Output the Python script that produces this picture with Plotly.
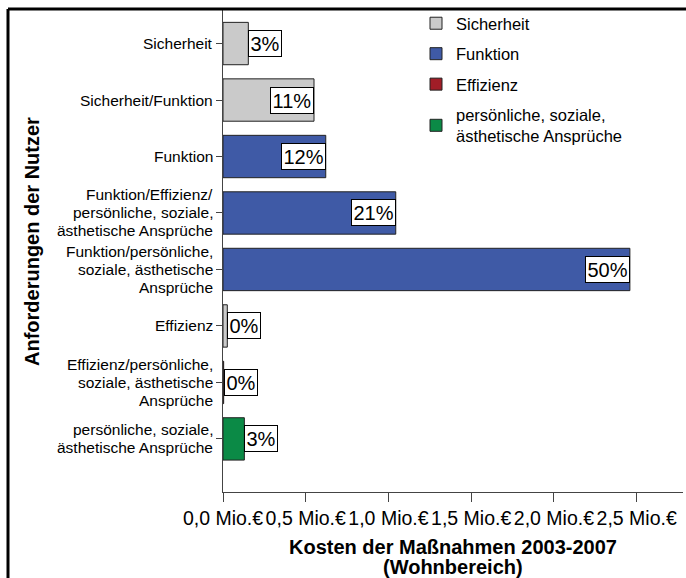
import plotly.graph_objects as go

categories = [
    "Sicherheit",
    "Sicherheit/Funktion",
    "Funktion",
    "Funktion/Effizienz/<br>persönliche, soziale,<br>ästhetische Ansprüche",
    "Funktion/persönliche,<br>soziale, ästhetische<br>Ansprüche",
    "Effizienz",
    "Effizienz/persönliche,<br>soziale, ästhetische<br>Ansprüche",
    "persönliche, soziale,<br>ästhetische Ansprüche",
]
costs = [0.153, 0.55, 0.621, 1.044, 2.459, 0.026, 0.004, 0.129]  # Mio. €
pct_labels = ["3%", "11%", "12%", "21%", "50%", "0%", "0%", "3%"]
group = ["Sicherheit", "Sicherheit", "Funktion", "Funktion", "Funktion",
         "Sicherheit", "Effizienz", "persönliche"]

series_names = ["Sicherheit", "Funktion", "Effizienz", "persönliche"]
legend_labels = ["Sicherheit", "Funktion", "Effizienz",
                 "persönliche, soziale,<br>ästhetische Ansprüche"]
colors = ["#cacaca", "#3f5aa6", "#a11d27", "#0b8a46"]

xtick_vals = [0, 0.5, 1.0, 1.5, 2.0, 2.5]
xtick_text = ["0,0 Mio.€", "0,5 Mio.€", "1,0 Mio.€", "1,5 Mio.€", "2,0 Mio.€", "2,5 Mio.€"]
x_title_lines = ["Kosten der Maßnahmen 2003-2007", "(Wohnbereich)"]
y_title = "Anforderungen der Nutzer"

FONT = "Liberation Sans, Arial, sans-serif"
L, R, T, B = 223, 3, 10, 86
W, H = 686, 578
PW, PH = W - L - R, H - T - B


def px_x(p):
    return (p - L) / PW


def px_y(p):
    return (H - B - p) / PH


fig = go.Figure()
for name, lab, col in zip(series_names, legend_labels, colors):
    idx = [i for i, g in enumerate(group) if g == name]
    fig.add_trace(go.Bar(
        x=[costs[i] for i in idx],
        y=idx,
        orientation="h",
        name=lab,
        legendgroup=name,
        width=0.75,
        marker=dict(color=col, line=dict(color="#222222", width=1)),
        hoverinfo="skip",
    ))

# category labels (tight line spacing as in the reference)
LINE = 18
for i, cat in enumerate(categories):
    lines = cat.split("<br>")
    n = len(lines)
    for k, ln in enumerate(lines):
        fig.add_annotation(
            x=0, y=i, xref="paper", yref="y", text=ln, showarrow=False,
            xanchor="right", yanchor="middle", xshift=-9, borderpad=0,
            yshift=-(k - (n - 1) / 2) * LINE,
            font=dict(family=FONT, size=15.5, color="black"),
        )

# percentage boxes
for i, (v, t) in enumerate(zip(costs, pct_labels)):
    inside = v > 0.3
    fig.add_annotation(
        x=v, y=i, xref="x", yref="y", text=t, showarrow=False,
        xanchor="right" if inside else "left", yanchor="middle",
        font=dict(family=FONT, size=20, color="black"),
        bgcolor="white", bordercolor="black", borderwidth=1, borderpad=1.5,
    )

# y-axis title
fig.add_annotation(
    text="<b>" + y_title + "</b>", textangle=-90,
    x=px_x(32), y=px_y(242), xref="paper", yref="paper", showarrow=False,
    xanchor="center", yanchor="middle",
    font=dict(family=FONT, size=20, color="black"),
)
# x-axis title (two lines)
for k, (ln, yc) in enumerate(zip(x_title_lines, [547, 567])):
    fig.add_annotation(
        text="<b>" + ln + "</b>", x=0.5, y=px_y(yc), xref="paper", yref="paper",
        showarrow=False, xanchor="center", yanchor="middle",
        font=dict(family=FONT, size=20, color="black"),
    )

# outer frame lines
fig.add_shape(type="line", xref="paper", yref="paper",
              x0=px_x(8), x1=1.05, y0=px_y(9), y1=px_y(9),
              line=dict(color="black", width=3))
fig.add_shape(type="line", xref="paper", yref="paper",
              x0=px_x(8), x1=px_x(8), y0=px_y(9), y1=px_y(600),
              line=dict(color="black", width=3))

fig.update_layout(
    width=W, height=H,
    margin=dict(l=L, r=R, t=T, b=B, autoexpand=False),
    paper_bgcolor="white", plot_bgcolor="white",
    barmode="relative",
    showlegend=True,
    legend=dict(
        x=px_x(416), y=px_y(6), xanchor="left", yanchor="top",
        font=dict(family=FONT, size=16.5, color="black"),
        tracegroupgap=6, bgcolor="rgba(0,0,0,0)",
        traceorder="grouped",
    ),
    font=dict(family=FONT, color="black"),
)

fig.update_xaxes(
    range=[0, 2.78], tickvals=xtick_vals, ticktext=xtick_text,
    showgrid=False, zeroline=False, automargin=False,
    showline=True, linecolor="#444444", linewidth=1,
    ticks="outside", ticklen=9, tickcolor="#444444", tickangle=0,
    tickfont=dict(family=FONT, size=19.5, color="black"),
)
fig.update_yaxes(
    range=[7.94, -0.594], tickvals=list(range(len(categories))),
    ticktext=[""] * len(categories),
    showgrid=False, zeroline=False, automargin=False,
    showline=True, linecolor="#444444", linewidth=1,
    ticks="outside", ticklen=6, tickcolor="#444444",
)

fig.write_html(
    "out.html",
    config={"displayModeBar": False},
    post_script="document.body.style.margin='0px';document.body.style.padding='0px';",
)
